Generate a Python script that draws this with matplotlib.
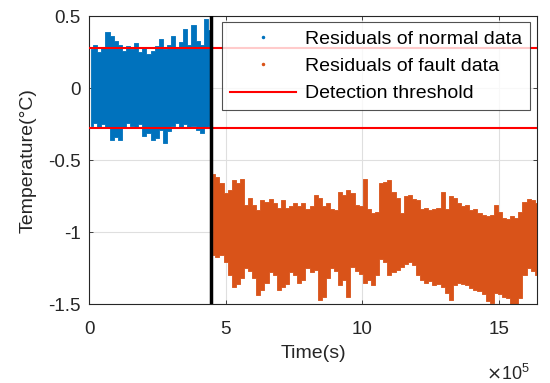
import numpy as np
import matplotlib
matplotlib.use("Agg")
import matplotlib.pyplot as plt
from matplotlib.lines import Line2D

plt.rcParams['font.family'] = ['Liberation Sans', 'DejaVu Sans']

# ---- data (time in units of 1e5 s, residual in degC) ----
bin_step = 0.15
normal_start = 0.075
normal_hi = [0.27, 0.30, 0.25, 0.28, 0.39, 0.36, 0.33, 0.30, 0.26, 0.29,
             0.27, 0.31, 0.25, 0.28, 0.24, 0.26, 0.29, 0.34, 0.27, 0.30,
             0.36, 0.28, 0.32, 0.41, 0.30, 0.44, 0.33, 0.30, 0.48, 0.40]
normal_lo = [-0.26, -0.24, -0.27, -0.25, -0.28, -0.36, -0.34, -0.36, -0.27, -0.24,
             -0.26, -0.28, -0.25, -0.33, -0.31, -0.36, -0.35, -0.29, -0.38, -0.30,
             -0.26, -0.24, -0.27, -0.25, -0.27, -0.26, -0.29, -0.31, -0.28, -0.26]

fault_start = 4.55
fault_hi = [-0.60, -0.62, -0.66, -0.73, -0.71, -0.64, -0.66, -0.63, -0.81, -0.76,
            -0.81, -0.85, -0.78, -0.79, -0.77, -0.80, -0.83, -0.78, -0.83, -0.82,
            -0.80, -0.82, -0.80, -0.84, -0.82, -0.74, -0.76, -0.82, -0.80, -0.84,
            -0.85, -0.72, -0.74, -0.71, -0.73, -0.81, -0.82, -0.63, -0.84, -0.87,
            -0.86, -0.66, -0.65, -0.64, -0.72, -0.76, -0.87, -0.75, -0.74, -0.77,
            -0.78, -0.84, -0.83, -0.85, -0.84, -0.83, -0.72, -0.84, -0.75, -0.76,
            -0.80, -0.82, -0.81, -0.85, -0.84, -0.87, -0.88, -0.89, -0.88, -0.81,
            -0.86, -0.90, -0.91, -0.89, -0.90, -0.86, -0.79, -0.77, -0.78, -0.80]
fault_lo = [-1.16, -1.17, -1.16, -1.21, -1.30, -1.38, -1.36, -1.32, -1.25, -1.27,
            -1.32, -1.44, -1.40, -1.35, -1.28, -1.30, -1.40, -1.38, -1.36, -1.28,
            -1.30, -1.35, -1.33, -1.25, -1.28, -1.26, -1.47, -1.45, -1.32, -1.25,
            -1.27, -1.37, -1.33, -1.45, -1.24, -1.27, -1.29, -1.35, -1.33, -1.37,
            -1.30, -1.19, -1.21, -1.30, -1.28, -1.26, -1.24, -1.22, -1.21, -1.23,
            -1.30, -1.33, -1.35, -1.34, -1.37, -1.36, -1.38, -1.42, -1.47, -1.37,
            -1.35, -1.36, -1.37, -1.39, -1.40, -1.41, -1.43, -1.48, -1.49, -1.42,
            -1.43, -1.45, -1.46, -1.51, -1.50, -1.46, -1.30, -1.25, -1.27, -1.30]

threshold = 0.28
fault_time = 4.47
x_ticks = [0, 5, 10, 15]
y_ticks = [0.5, 0, -0.5, -1, -1.5]
y_ticklabels = ['0.5', '0', '-0.5', '-1', '-1.5']

normal_t = normal_start + bin_step * np.arange(len(normal_hi))
fault_t = fault_start + bin_step * np.arange(len(fault_hi))

blue = '#0072BD'
orange = '#D95319'
txt = '#262626'

fig = plt.figure(figsize=(5.5, 3.83), dpi=100)
ax = fig.add_axes([0.162, 0.206, 0.814, 0.752])

ax.fill_between(normal_t, normal_lo, normal_hi, step='mid', color=blue,
                linewidth=0.6, edgecolor=blue, zorder=2)
ax.fill_between(fault_t, fault_lo, fault_hi, step='mid', color=orange,
                linewidth=0.6, edgecolor=orange, zorder=2)
ax.axhline(threshold, color='#FF0000', linewidth=1.5, zorder=3)
ax.axhline(-threshold, color='#FF0000', linewidth=1.5, zorder=3)
ax.axvline(fault_time, color='black', linewidth=2.5, zorder=4)

ax.set_xlim(0, 16.4)
ax.set_ylim(-1.5, 0.5)
ax.set_xticks(x_ticks)
ax.set_yticks(y_ticks)
ax.set_yticklabels(y_ticklabels)
ax.grid(True, color='#DFDFDF', linewidth=0.8, zorder=0)
ax.set_axisbelow(True)
ax.tick_params(direction='in', top=True, right=True, labelsize=13.5,
               colors=txt, length=3, width=0.6)
ax.tick_params(axis='x', pad=12)
ax.tick_params(axis='y', pad=6)
for s in ax.spines.values():
    s.set_linewidth(0.8)
    s.set_color(txt)

ax.set_xlabel('Time(s)', fontsize=14, color=txt, labelpad=5)
ax.set_ylabel('Temperature(°C)', fontsize=14, color=txt, labelpad=8)
fig.text(0.884, 0.008, r'$\times\mathregular{10^5}$', fontsize=13, color=txt)

handles = [
    Line2D([], [], linestyle='none', marker='.', markersize=3, color=blue),
    Line2D([], [], linestyle='none', marker='.', markersize=3, color=orange),
    Line2D([], [], color='#FF0000', linewidth=1.5),
]
labels = ['Residuals of normal data', 'Residuals of fault data', 'Detection threshold']
leg = ax.legend(handles, labels, loc='upper right', bbox_to_anchor=(0.984, 0.978),
                fontsize=14, frameon=True, fancybox=False, edgecolor=txt,
                handlelength=3.4, handletextpad=0.45, borderpad=0.4,
                labelspacing=0.5, borderaxespad=0)
leg.get_frame().set_linewidth(0.8)
leg.set_zorder(10)

fig.savefig('out.png', dpi=100)
